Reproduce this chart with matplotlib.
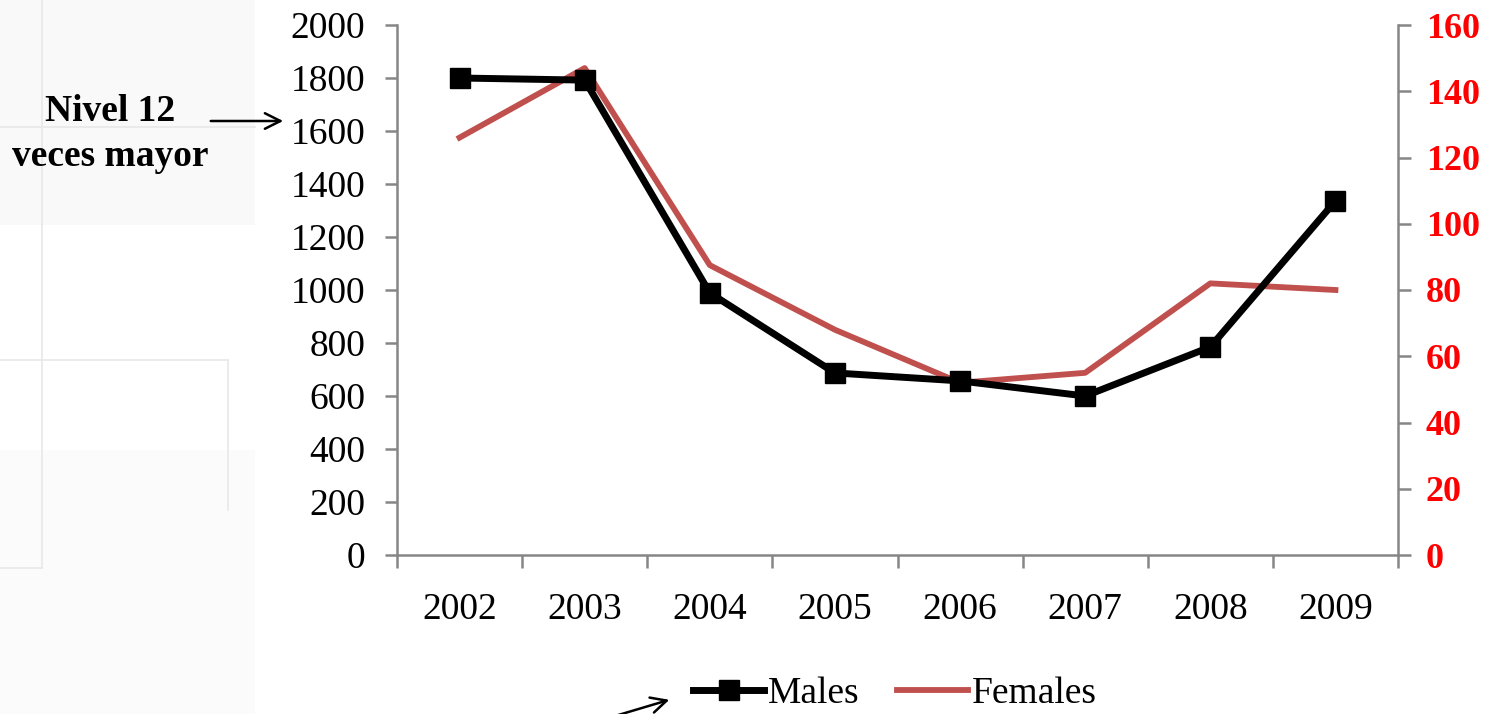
import matplotlib
matplotlib.use("Agg")
import matplotlib.pyplot as plt
from matplotlib.patches import Rectangle
from matplotlib.lines import Line2D

# data
years = ["2002", "2003", "2004", "2005", "2006", "2007", "2008", "2009"]
males = [1800, 1792, 989, 687, 657, 600, 785, 1336]
females = [126, 147, 87.5, 68, 52, 55, 82, 80]

plt.rcParams['font.family'] = ['Liberation Serif', 'DejaVu Serif']
grey = "#868686"
fs = 27

fig = plt.figure(figsize=(14.88, 7.14), dpi=100)

# faint background boxes at the left side
bg = fig.add_axes([0, 0, 1, 1], zorder=-5)
bg.set_xlim(0, 1488); bg.set_ylim(714, 0); bg.axis("off")
bg.add_patch(Rectangle((0, 0), 255, 225, color="#f9f9f9", lw=0))
bg.add_patch(Rectangle((0, 450), 255, 264, color="#fbfbfb", lw=0))
bg.plot([42, 42], [0, 568], color="#e8e8e8", lw=1.2)
bg.plot([0, 42], [568, 568], color="#e8e8e8", lw=1.2)
bg.plot([0, 255], [127, 127], color="#e8e8e8", lw=1.2)
bg.plot([0, 228], [360, 360], color="#e8e8e8", lw=1.2)
bg.plot([228, 228], [360, 510], color="#e8e8e8", lw=1.2)

ax = fig.add_axes([397/1488, 159/714, 1001/1488, 530/714])
x = list(range(len(years)))
ax.plot(x, males, color="black", lw=5, marker="s", ms=15, zorder=3)
ax.set_xlim(-0.5, len(years) - 0.5)
ax.set_ylim(0, 2000)
ax.set_yticks(range(0, 2001, 200))
ax.set_xticks([i - 0.5 for i in range(len(years) + 1)])
ax.set_xticklabels([])
ax.set_xticks(x, minor=True)
ax.set_xticklabels(years, minor=True)
ax.tick_params(axis="x", which="minor", length=0, pad=27, labelsize=fs)
ax.tick_params(axis="x", which="major", length=9, width=1.8, color=grey)
ax.tick_params(axis="y", length=9, width=1.8, color=grey, labelsize=fs, pad=14)
for s in ["top", "right"]:
    ax.spines[s].set_visible(False)
for s in ["left", "bottom"]:
    ax.spines[s].set_color(grey)
    ax.spines[s].set_linewidth(1.8)

ax2 = ax.twinx()
ax2.plot(x, females, color="#C0504D", lw=4.2, zorder=2)
ax2.set_ylim(0, 160)
ax2.set_yticks(range(0, 161, 20))
ax2.tick_params(axis="y", length=9, width=1.8, color=grey, labelsize=26,
                labelcolor="red", pad=11)
for lab in ax2.get_yticklabels():
    lab.set_fontweight("bold")
for s in ["top", "left", "bottom"]:
    ax2.spines[s].set_visible(False)
ax2.spines["right"].set_color(grey)
ax2.spines["right"].set_linewidth(1.8)
ax.set_zorder(ax2.get_zorder() + 1)
ax.patch.set_visible(False)

# annotation
fig.text(110/1488, 1 - 134/714, "Nivel 12\nveces mayor", ha="center", va="center",
         fontsize=fs, fontweight="bold", linespacing=1.4)
bg.annotate("", xy=(286, 121), xytext=(208, 121),
            arrowprops=dict(arrowstyle="->", color="black", lw=1.8, mutation_scale=28))
bg.annotate("", xy=(672, 699), xytext=(615, 716),
            arrowprops=dict(arrowstyle="->", color="black", lw=1.8, mutation_scale=28))

handles = [Line2D([], [], color="black", lw=5, marker="s", ms=15),
           Line2D([], [], color="#C0504D", lw=4.2)]
fig.legend(handles, ["Males", "Females"], loc="center", bbox_to_anchor=(895/1488, 1 - 694/714),
           ncol=2, frameon=False, fontsize=fs, handlelength=1.9, handletextpad=0.1,
           columnspacing=1.0, borderpad=0, borderaxespad=0)

fig.savefig("out.png", dpi=100)
